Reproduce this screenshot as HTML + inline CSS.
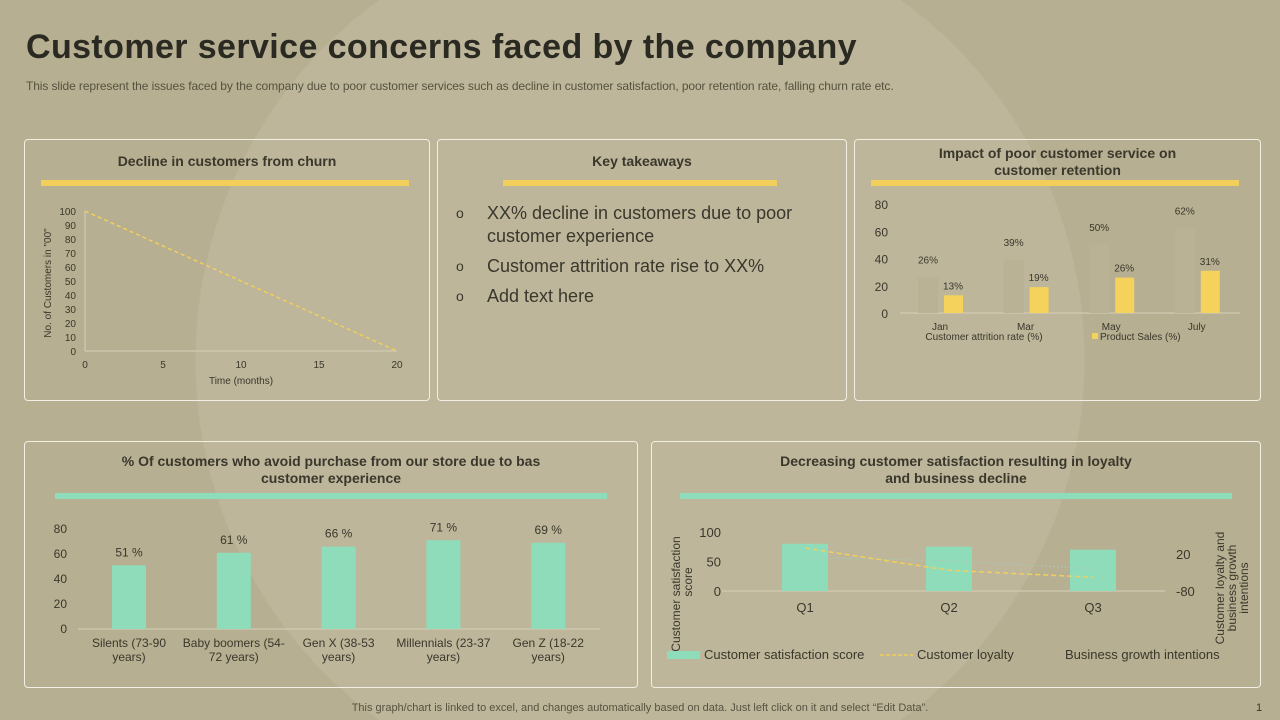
<!DOCTYPE html>
<html><head><meta charset="utf-8">
<style>
html{margin:0;width:1280px;height:720px;overflow:hidden}
body{margin:0;width:1280px;height:720px;overflow:hidden;background:radial-gradient(circle 445px at 640px 360px,#bdb69a 0,#bdb69a 444px,#b7af91 445px);font-family:"Liberation Sans",sans-serif;position:relative;color:#3a372c}
.abs{position:absolute}
.panel{position:absolute;border:1.5px solid #f2efe4;border-radius:4px;box-sizing:border-box}
.ptitle{position:absolute;left:0;right:0;text-align:center;font-weight:bold;font-size:14px;color:#3a372c;line-height:17px}
.bar{position:absolute;height:6px}
svg{position:absolute;left:0;top:0;overflow:hidden}
svg text{font-family:"Liberation Sans",sans-serif;fill:#3a372c}
</style></head>
<body>
<div class="abs" style="left:26px;top:28px;font-size:34px;font-weight:bold;letter-spacing:0.4px;color:#2b2a22">Customer service concerns faced by the company</div>
<div class="abs" style="left:26px;top:79px;font-size:12px;color:#55523f;letter-spacing:-0.1px">This slide represent the issues faced by the company due to poor customer services such as decline in customer satisfaction, poor retention rate, falling churn rate etc.</div>

<div class="panel" style="left:24px;top:139px;width:406px;height:262px">
 <div class="ptitle" style="top:13px">Decline in customers from churn</div>
 <div class="bar" style="left:16px;top:40px;width:368px;background:#f2cf5b"></div>
</div>
<div class="panel" style="left:437px;top:139px;width:410px;height:262px">
 <div class="ptitle" style="top:13px">Key takeaways</div>
 <div class="bar" style="left:65px;top:40px;width:274px;background:#f2cf5b"></div>
 <div class="abs" style="left:18px;top:62px;width:380px;font-size:18px;color:#3a372c;line-height:23px">
  <div style="position:relative;padding-left:31px"><span style="position:absolute;left:0;font-size:14px">o</span>XX% decline in customers due to poor customer experience</div>
  <div style="position:relative;padding-left:31px;margin-top:7px"><span style="position:absolute;left:0;font-size:14px">o</span>Customer attrition rate rise to XX%</div>
  <div style="position:relative;padding-left:31px;margin-top:7px"><span style="position:absolute;left:0;font-size:14px">o</span>Add text here</div>
 </div>
</div>
<div class="panel" style="left:854px;top:139px;width:407px;height:262px">
 <div class="ptitle" style="top:5px">Impact of poor customer service on<br>customer retention</div>
 <div class="bar" style="left:16px;top:40px;width:368px;background:#f2cf5b"></div>
</div>
<div class="panel" style="left:24px;top:441px;width:614px;height:247px">
 <div class="ptitle" style="top:11px">% Of customers who avoid purchase from our store due to bas<br>customer experience</div>
 <div class="bar" style="left:30px;top:51px;width:552px;background:#8fdcbb"></div>
</div>
<div class="panel" style="left:651px;top:441px;width:610px;height:247px">
 <div class="ptitle" style="top:11px">Decreasing customer satisfaction resulting in loyalty<br>and business decline</div>
 <div class="bar" style="left:28px;top:51px;width:552px;background:#8fdcbb"></div>
</div>
<div class="abs" style="left:0;width:1280px;top:702px;line-height:13px;text-align:center;font-size:11px;color:#55523f">This graph/chart is linked to excel, and changes automatically based on data. Just left click on it and select “Edit Data”.</div>
<div class="abs" style="left:1256px;top:702px;line-height:13px;font-size:11px;color:#3a372c">1</div>

<svg id="chart" width="1280" height="720"></svg>
<script>
// Chart 1: churn
const churnX=[0,20];
const churnY=[100,0];
const churnXTicks=[0,5,10,15,20];
const churnYTicks=[0,10,20,30,40,50,60,70,80,90,100];
// Chart 3: retention
const retCats=["Jan","Mar","May","July"];
const retAttrition=[26,39,50,62];
const retSales=[13,19,26,31];
const retYTicks=[0,20,40,60,80];
// Chart 4: avoid purchase
const avoidCats=[["Silents (73-90","years)"],["Baby boomers (54-","72 years)"],["Gen X (38-53","years)"],["Millennials (23-37","years)"],["Gen Z (18-22","years)"]];
const avoidVals=[51,61,66,71,69];
const avoidYTicks=[0,20,40,60,80];
// Chart 5: satisfaction
const satCats=["Q1","Q2","Q3"];
const satScore=[80,75,70];
const satLoyalty=[36,-24,-43];
const satGrowth=[10,2,-20];
const satLeftTicks=[0,50,100];
const satRightTicks=[-80,20];

const svg=document.getElementById('chart');
const NS='http://www.w3.org/2000/svg';
function mk(tag,attrs,txt){const e=document.createElementNS(NS,tag);for(const k in attrs)e.setAttribute(k,attrs[k]);if(txt!==undefined)e.textContent=txt;svg.appendChild(e);return e;}

// churn
{const X=v=>85+v*(397-85)/20, Y=v=>351-v*(351-211)/100;
 let e=mk('line',{x1:85,y1:211,x2:85,y2:351,stroke:'#d6d0bb'});
 
 
 e=mk('line',{x1:85,y1:351,x2:397,y2:351,stroke:'#d6d0bb'});
 
 
 churnYTicks.forEach(t=>{e=mk('text',{x:76,y:Y(t)+4,'font-size':10,'text-anchor':'end'},t);
  
  });
 churnXTicks.forEach(t=>{e=mk('text',{x:X(t),y:368,'font-size':10,'text-anchor':'middle'},t);
  
  });
 e=mk('polyline',{points:churnX.map((x,i)=>X(x)+','+Y(churnY[i])).join(' '),fill:'none',stroke:'#f2cf5b','stroke-width':1.5,'stroke-dasharray':'4,3'});
 
 
 e=mk('text',{x:241,y:384,'font-size':10,'text-anchor':'middle'},'Time  (months)');
 
 
 e=mk('text',{x:51,y:283,'font-size':10,'text-anchor':'middle',transform:'rotate(-90 51 283)'},'No. of Customers in "00"');
 
 
}
// retention
{const Y=v=>313-v*(313-204)/80, C=i=>940+i*85.6;
 let e=mk('line',{x1:900,y1:313,x2:1240,y2:313,stroke:'#d6d0bb'});
 
 
 retYTicks.forEach(t=>{e=mk('text',{x:888,y:Y(t)+5,'font-size':12,'text-anchor':'end'},t);
  
  });
 retCats.forEach((c,i)=>{
  e=mk('rect',{x:C(i)-22,y:Y(retAttrition[i]),width:20,height:313-Y(retAttrition[i]),fill:'#b9b295'});
  
  
  e=mk('rect',{x:C(i)+4,y:Y(retSales[i]),width:19,height:313-Y(retSales[i]),fill:'#f4d25c'});
  
  
  e=mk('text',{x:C(i)-12,y:Y(retAttrition[i])-14,'font-size':10,'text-anchor':'middle'},retAttrition[i]+'%');
  
  
  e=mk('text',{x:C(i)+13,y:Y(retSales[i])-6,'font-size':10,'text-anchor':'middle'},retSales[i]+'%');
  
  
  e=mk('text',{x:C(i),y:330,'font-size':10,'text-anchor':'middle'},c);
  
  
 });
 e=mk('text',{x:984,y:340,'font-size':10,'text-anchor':'middle'},'Customer attrition rate (%)');
 
 
 e=mk('rect',{x:1092,y:333,width:6,height:6,fill:'#f4d25c'});
 
 
 e=mk('text',{x:1100,y:340,'font-size':10},'Product Sales (%)');
 
 
}
// avoid
{const Y=v=>629-v*(629-529)/80, C=i=>129+i*104.8;
 let e=mk('line',{x1:78,y1:629,x2:600,y2:629,stroke:'#d6d0bb'});
 
 
 avoidYTicks.forEach(t=>{e=mk('text',{x:67,y:Y(t)+4,'font-size':12,'text-anchor':'end'},t);
  
  });
 avoidCats.forEach((c,i)=>{
  e=mk('rect',{x:C(i)-17,y:Y(avoidVals[i]),width:34,height:629-Y(avoidVals[i]),fill:'#8fdcbb'});
  
  
  e=mk('text',{x:C(i),y:Y(avoidVals[i])-9,'font-size':12,'text-anchor':'middle'},avoidVals[i]+' %');
  
  
  c.forEach((l,j)=>{e=mk('text',{x:C(i),y:647+j*14,'font-size':12,'text-anchor':'middle'},l);
   
   });
 });
}
// satisfaction
{const Y=v=>591-v*(591-532)/100, R=v=>591-(v+80)*(591-554)/100, C=i=>805+i*144;
 let e=mk('line',{x1:722,y1:591,x2:1165,y2:591,stroke:'#d6d0bb'});
 
 
 satLeftTicks.forEach(t=>{e=mk('text',{x:721,y:Y(t)+5,'font-size':13,'text-anchor':'end'},t);
  
  });
 satRightTicks.forEach(t=>{e=mk('text',{x:1176,y:R(t)+5,'font-size':13},t);
  
  });
 satCats.forEach((c,i)=>{
  e=mk('rect',{x:C(i)-23,y:Y(satScore[i]),width:46,height:591-Y(satScore[i]),fill:'#8fdcbb'});
  
  
  e=mk('text',{x:C(i),y:612,'font-size':13,'text-anchor':'middle'},c);
  
  
 });
 e=mk('polyline',{points:satCats.map((c,i)=>C(i)+','+R(satGrowth[i])).join(' '),fill:'none',stroke:'#a8c8b4','stroke-width':1,'stroke-dasharray':'2,2'});
 
 
 e=mk('polyline',{points:satCats.map((c,i)=>C(i)+','+R(satLoyalty[i])).join(' '),fill:'none',stroke:'#f2cf5b','stroke-width':1.5,'stroke-dasharray':'5,3'});
 
 
 e=mk('text',{x:676,y:594,'font-size':12,'text-anchor':'middle',transform:'rotate(-90 676 594)',dy:4},'Customer satisfaction');
 
 
 e=mk('text',{x:688,y:582,'font-size':12,'text-anchor':'middle',transform:'rotate(-90 688 582)',dy:4},'score');
 
 
 ['Customer loyalty and','business growth','intentions'].forEach((l,j)=>{
  e=mk('text',{x:1224+j*12,y:588,'font-size':12,'text-anchor':'middle',transform:'rotate(-90 '+(1224+j*12)+' 588)'},l);
  
  });
 e=mk('rect',{x:667,y:651,width:33,height:8,fill:'#8fdcbb'});
 
 
 e=mk('text',{x:704,y:659,'font-size':13},'Customer satisfaction score');
 
 
 e=mk('line',{x1:880,y1:655,x2:913,y2:655,stroke:'#f2cf5b','stroke-width':1.5,'stroke-dasharray':'4,2'});
 
 
 e=mk('text',{x:917,y:659,'font-size':13},'Customer loyalty');
 
 
 e=mk('text',{x:1065,y:659,'font-size':13},'Business growth intentions');
 
 
}
</script>
</body></html>
